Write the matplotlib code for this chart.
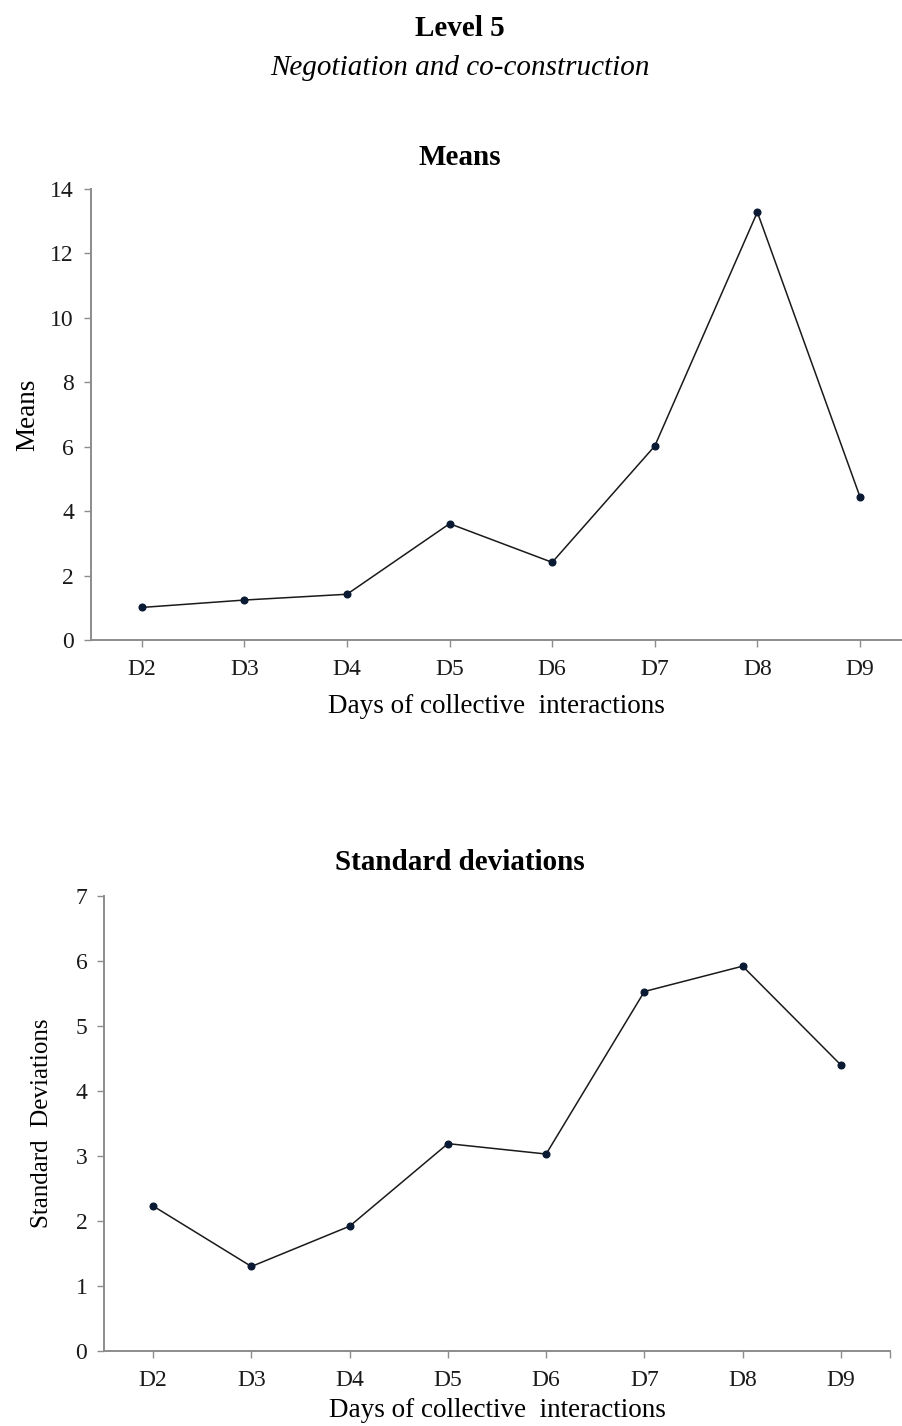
import matplotlib.pyplot as plt
from matplotlib.ticker import FixedLocator

days = ["D2", "D3", "D4", "D5", "D6", "D7", "D8", "D9"]
means = [1.01, 1.24, 1.42, 3.61, 2.41, 6.02, 13.28, 4.45]
std_devs = [2.23, 1.30, 1.92, 3.19, 3.03, 5.53, 5.92, 4.40]

plt.rcParams['font.family'] = ['Liberation Serif', 'DejaVu Serif']

fig = plt.figure(figsize=(9.03, 14.26), dpi=100)

grey = '#8c8c8c'
x = list(range(len(days)))


def style_axes(ax, yvals, ymax):
    ax.plot(x, yvals, color='#1a1a1a', linewidth=1.1, marker='o',
            markersize=4.8, markerfacecolor='#0b1a33', markeredgecolor='#0b1a33')
    for s in ['top', 'right']:
        ax.spines[s].set_visible(False)
    for s in ['left', 'bottom']:
        ax.spines[s].set_color(grey)
        ax.spines[s].set_linewidth(1.4)
    ax.set_xticks(x)
    ax.set_xticklabels(days)
    ax.set_ylim(0, ymax)
    ax.tick_params(axis='both', colors=grey, length=5, width=1.0, labelsize=17,
                   labelcolor='#1a1a1a')
    ax.tick_params(axis='x', pad=9)
    ax.tick_params(axis='y', pad=7)


# Means panel
ax1 = fig.add_axes([0.1003, 0.5512, 0.8997, 0.3163])
style_axes(ax1, means, 14)
ax1.set_xlim(-0.5, 7.42)
ax1.set_yticks(range(0, 15, 2))
ax1.set_ylabel("Means", fontsize=19.5, labelpad=7)
ax1.set_xlabel("Days of collective  interactions", fontsize=19.5, labelpad=10)

# Standard deviations panel
ax2 = fig.add_axes([0.1152, 0.0526, 0.8704, 0.3191])
style_axes(ax2, std_devs, 7)
ax2.set_xlim(-0.5, 7.5)
ax2.xaxis.set_minor_locator(FixedLocator([7.5]))
ax2.tick_params(axis='x', which='minor', colors=grey, length=5, width=1.0)
ax2.set_yticks(range(0, 8))
ax2.set_ylabel("Standard  Deviations", fontsize=18, labelpad=16)
ax2.set_xlabel("Days of collective  interactions", fontsize=19.5, labelpad=5)

cx = 460 / 903
fig.text(cx, 1 - 36 / 1426, "Level 5", ha='center', va='baseline',
         fontsize=21, fontweight='bold')
fig.text(cx, 1 - 75 / 1426, "Negotiation and co-construction", ha='center',
         va='baseline', fontsize=21, style='italic')
fig.text(cx, 1 - 165 / 1426, "Means", ha='center', va='baseline',
         fontsize=21, fontweight='bold')
fig.text(cx, 1 - 870 / 1426, "Standard deviations", ha='center', va='baseline',
         fontsize=21, fontweight='bold')

fig.savefig("out.png", dpi=100)
